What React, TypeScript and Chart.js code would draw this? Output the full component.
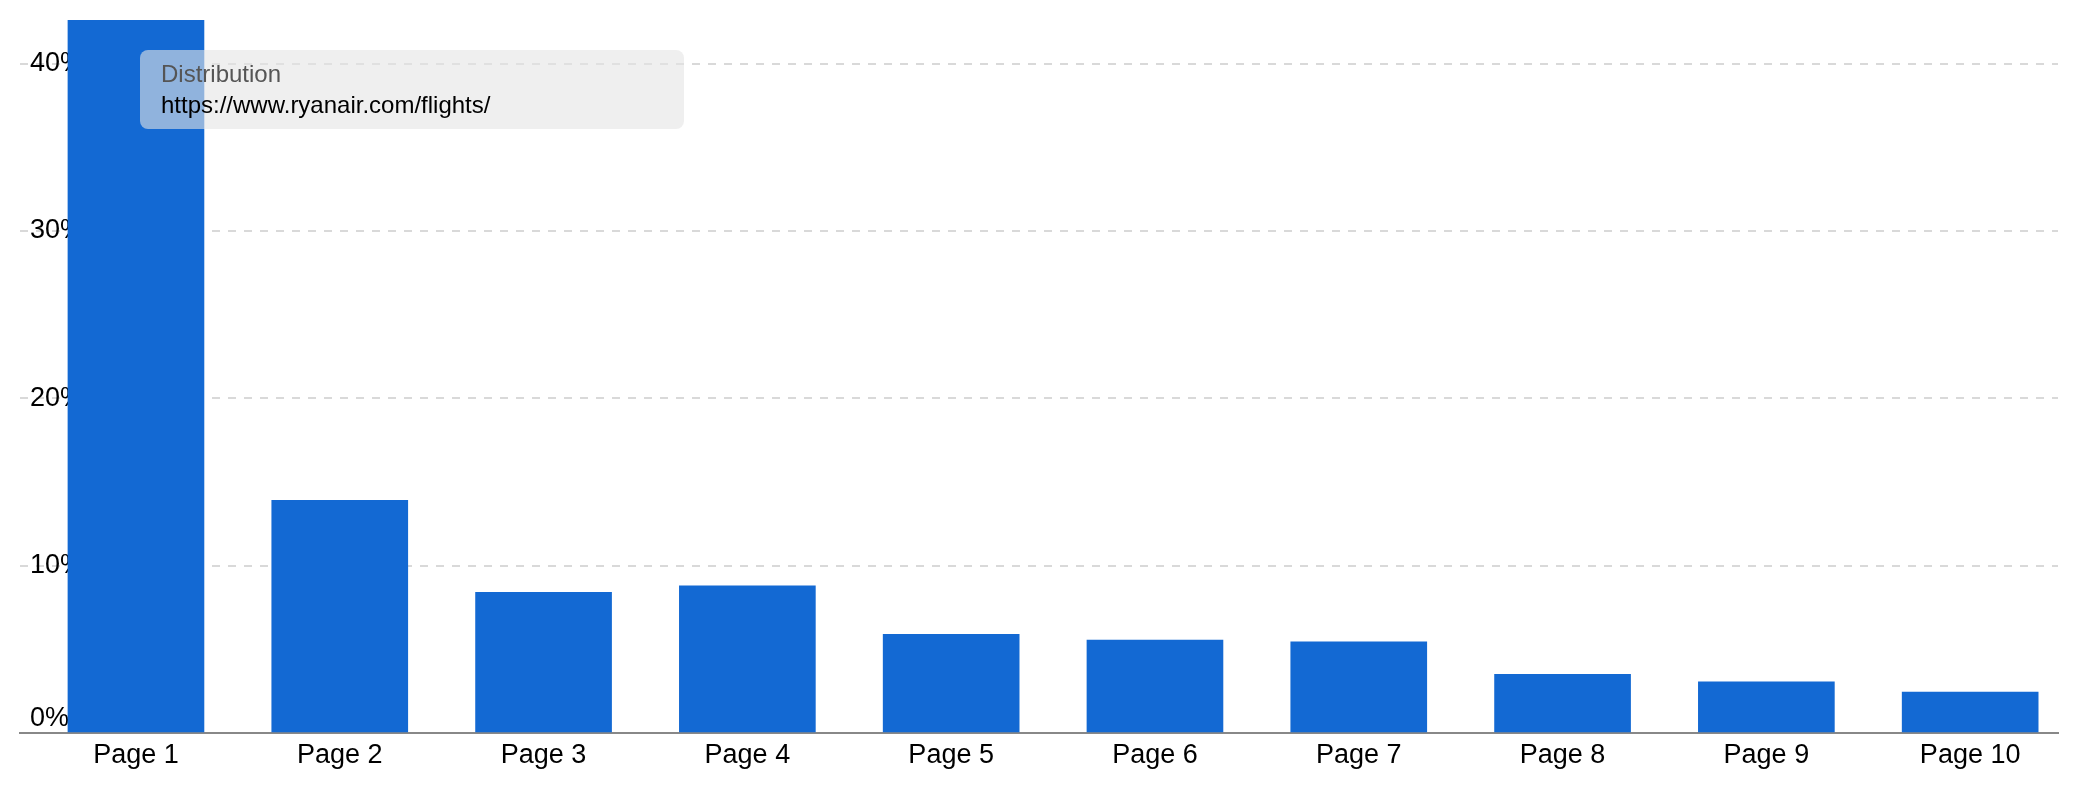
import { useEffect, useRef } from 'react'
import { Chart, registerables } from 'chart.js'
Chart.register(...registerables)

// values (Page 1 runs past the top of the plot)
const categories = ['Page 1', 'Page 2', 'Page 3', 'Page 4', 'Page 5', 'Page 6', 'Page 7', 'Page 8', 'Page 9', 'Page 10']
const distribution = [45.0, 13.9, 8.4, 8.8, 5.9, 5.55, 5.45, 3.5, 3.05, 2.45]
const yTicks = [0, 10, 20, 30, 40]
const tipTitle = 'Distribution'
const tipUrl = 'https://www.ryanair.com/flights/'

const FONT = '"Liberation Sans", Arial, Helvetica, sans-serif'
const BLUE = '#1369d3'

export default function App() {
  const ref = useRef<HTMLCanvasElement>(null)

  useEffect(() => {
    document.body.style.margin = '0'
    if (!ref.current) return
    const chart = new Chart(ref.current, {
      type: 'bar',
      data: {
        datasets: [{
          label: tipTitle,
          data: categories.map((_, i) => ({ x: i, y: distribution[i] })),
          backgroundColor: BLUE,
          barThickness: 136,
        }],
      },
      options: {
        animation: false, responsive: true, maintainAspectRatio: false,
        events: [],
        layout: { padding: { left: 20, right: 20, top: 20, bottom: 0 } },
        plugins: { legend: { display: false }, tooltip: { enabled: false } },
        scales: {
          x: {
            type: 'linear', offset: false, min: -0.569, max: 9.431,
            grid: { display: false },
            border: { display: true, color: '#888', width: 2 },
            ticks: { autoSkip: false, maxRotation: 0, padding: -2, color: '#000', font: { family: FONT, size: 27 }, callback: v => categories[v as number] ?? '' },
            afterBuildTicks: s => { s.ticks = categories.map((_, i) => ({ value: i })) },
            afterFit: s => { s.height = 67; s.paddingLeft = 0; s.paddingRight = 0 },
          },
          y: {
            min: 0, max: 42.6,
            border: { display: false, dash: [8, 8] },
            grid: { drawTicks: false, lineWidth: 2, color: c => c.tick && c.tick.value === 0 ? 'rgba(0,0,0,0)' : '#d9d9d9' },
            ticks: {
              mirror: true, padding: 10, color: '#000',
              font: { family: FONT, size: 27, lineHeight: 1.07 },
              callback: v => v === 0 ? ['0%', ''] : v + '%',
            },
            afterBuildTicks: s => { s.ticks = yTicks.map(v => ({ value: v })) },
            afterFit: s => { s.width = 0; s.paddingTop = 0; s.paddingBottom = 0 },
          },
        },
      },
    })
    return () => chart.destroy()
  }, [])

  return (
    <div style={{ position: 'relative', width: 2078, height: 800, background: '#fff' }}>
      <canvas ref={ref} />
      <div style={{ position: 'absolute', left: 140, top: 50, width: 544, height: 79, boxSizing: 'border-box', padding: '8px 0 0 21px', borderRadius: 8, background: 'rgba(228,228,228,0.6)', fontFamily: FONT, fontSize: 24, lineHeight: '31px', whiteSpace: 'nowrap' }}>
        <div style={{ color: '#555' }}>{tipTitle}</div>
        <div style={{ color: '#000' }}>{tipUrl}</div>
      </div>
    </div>
  )
}
